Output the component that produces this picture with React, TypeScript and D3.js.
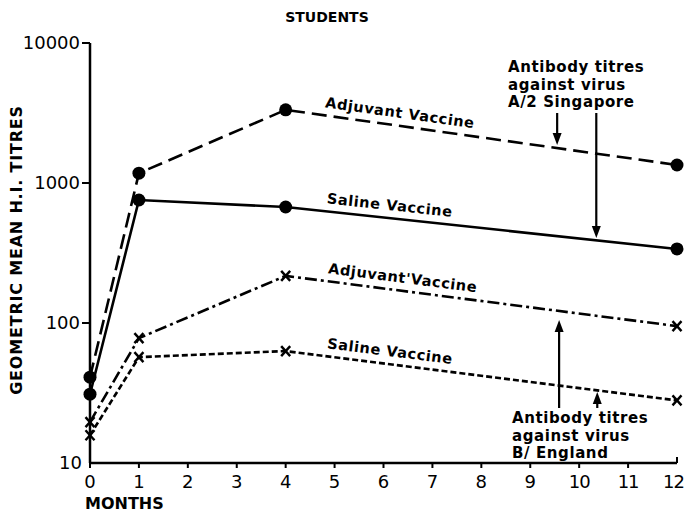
import * as d3 from 'd3';
import React from 'react';

// months after vaccination
const months = [0, 1, 4, 12];

// geometric mean H.I. titres
const adjuvantA2 = [41, 1175, 3330, 1345];
const salineA2 = [31, 756, 674, 338];
const adjuvantB = [19.6, 78, 217, 95];
const salineB = [15.8, 57, 63, 28];

const yTicks = [10, 100, 1000, 10000];
const xTicks = d3.range(0, 13);

// [label, series, month where the label sits]
const seriesLabels: [string, number[], number][] = [
  ['Adjuvant Vaccine', adjuvantA2, 6.3],
  ['Saline Vaccine', salineA2, 6.1],
  ["Adjuvant'Vaccine", adjuvantB, 6.36],
  ['Saline Vaccine', salineB, 6.1],
];

const noteA2 = ['Antibody titres', 'against virus', 'A/2 Singapore'];
const noteB = ['Antibody titres', 'against virus', 'B/ England'];

// arrows: [month, from titre, to titre]
const arrows: [number, number, number][] = [
  [9.55, 3162, 1868],
  [10.35, 3162, 405],
  [9.59, 24.7, 105],
  [10.37, 24.7, 32.1],
];

const font = "'DejaVu Sans', sans-serif";

const App = () => {
  const x = d3.scaleLinear().domain([0, 12]).range([90, 677]);
  const y = d3.scaleLog().domain([10, 10000]).range([463, 43]);

  const line = d3
    .line<number>()
    .x((_, i) => x(months[i]))
    .y(d => y(d));

  const lines = [
    { data: adjuvantA2, dash: '15,7', marker: 'dot' },
    { data: salineA2, dash: '', marker: 'dot' },
    { data: adjuvantB, dash: '12,4,3,4', marker: 'x' },
    { data: salineB, dash: '6,3', marker: 'x' },
  ];

  const labelAt = (series: number[], m: number) => {
    const px = x(m);
    const py = y(series[2]) + ((px - x(4)) / (x(12) - x(4))) * (y(series[3]) - y(series[2]));
    const ang = (Math.atan2(y(series[3]) - y(series[2]), x(12) - x(4)) * 180) / Math.PI;
    return { px, py, ang };
  };

  return (
    <svg width={685} height={513} style={{ position: 'absolute', left: 0, top: 0, background: '#fff' }}>
      <text x={327} y={22} textAnchor="middle" fontFamily={font} fontWeight="bold" fontSize={14}>
        STUDENTS
      </text>

      {/* y axis */}
      <line x1={x(0)} x2={x(0)} y1={y(10000)} y2={y(10)} stroke="#000" strokeWidth={2.5} />
      {yTicks.map(t => (
        <g key={t}>
          {t > 10 && <line x1={x(0) - 8} x2={x(0)} y1={y(t)} y2={y(t)} stroke="#000" strokeWidth={2} />}
          <text
            x={t > 10 ? 80 : 82}
            y={y(t)}
            dy="0.36em"
            textAnchor="end"
            fontFamily={font}
            fontSize={18}
          >
            {t}
          </text>
        </g>
      ))}
      <text
        transform="translate(22,250) rotate(-90)"
        textAnchor="middle"
        fontFamily={font}
        fontWeight="bold"
        fontSize={16}
        letterSpacing={0.8}
      >
        GEOMETRIC MEAN H.I. TITRES
      </text>

      {/* x axis */}
      <line x1={x(0)} x2={x(12)} y1={y(10)} y2={y(10)} stroke="#000" strokeWidth={2.5} />
      {xTicks.map(t => (
        <g key={t}>
          <line x1={x(t)} x2={x(t)} y1={y(10)} y2={y(10) + (t === 12 ? -6 : 5)} stroke="#000" strokeWidth={2} />
          <text
            x={t === 12 ? 684 : x(t)}
            y={482}
            dy="0.36em"
            textAnchor={t === 12 ? 'end' : 'middle'}
            fontFamily={font}
            fontSize={18}
            letterSpacing={t >= 10 ? -1 : 0}
          >
            {t}
          </text>
        </g>
      ))}
      <text x={85} y={509} fontFamily={font} fontWeight="bold" fontSize={16}>
        MONTHS
      </text>

      {/* series */}
      {lines.map((l, i) => (
        <g key={i}>
          <path d={line(l.data) || ''} fill="none" stroke="#000" strokeWidth={2.6} strokeDasharray={l.dash} />
          {l.data.map((v, j) =>
            l.marker === 'dot' ? (
              <circle key={j} cx={x(months[j])} cy={y(v)} r={6.5} fill="#000" />
            ) : (
              <g key={j} transform={`translate(${x(months[j])},${y(v)})`} stroke="#000" strokeWidth={2.4}>
                <line x1={-4.5} y1={-5} x2={4.5} y2={5} />
                <line x1={4.5} y1={-5} x2={-4.5} y2={5} />
              </g>
            )
          )}
        </g>
      ))}

      {/* series labels */}
      {seriesLabels.map(([txt, s, m], i) => {
        const { px, py, ang } = labelAt(s, m);
        return (
          <text
            key={i}
            transform={`translate(${px},${py}) rotate(${ang}) translate(0,-8)`}
            textAnchor="middle"
            fontFamily={font}
            fontWeight="bold"
            fontSize={14.5}
            letterSpacing={0.6}
          >
            {txt}
          </text>
        );
      })}

      {/* notes */}
      {noteA2.map((t, i) => (
        <text key={'a' + i} x={508} y={72 + i * 17.5} fontFamily={font} fontWeight="bold" fontSize={15} letterSpacing={0.6}>
          {t}
        </text>
      ))}
      {noteB.map((t, i) => (
        <text key={'b' + i} x={512} y={423 + i * 17.5} fontFamily={font} fontWeight="bold" fontSize={15} letterSpacing={0.6}>
          {t}
        </text>
      ))}

      {arrows.map(([m, a, b], i) => {
        const px = x(m);
        const y0 = y(a);
        const y1 = y(b);
        const dir = y1 > y0 ? 1 : -1;
        return (
          <g key={i}>
            <line x1={px} x2={px} y1={y0} y2={y1 - dir * 10} stroke="#000" strokeWidth={2.2} />
            <path d={`M${px - 4.5},${y1 - dir * 12}L${px + 4.5},${y1 - dir * 12}L${px},${y1}Z`} fill="#000" />
          </g>
        );
      })}
    </svg>
  );
};

export default App;
